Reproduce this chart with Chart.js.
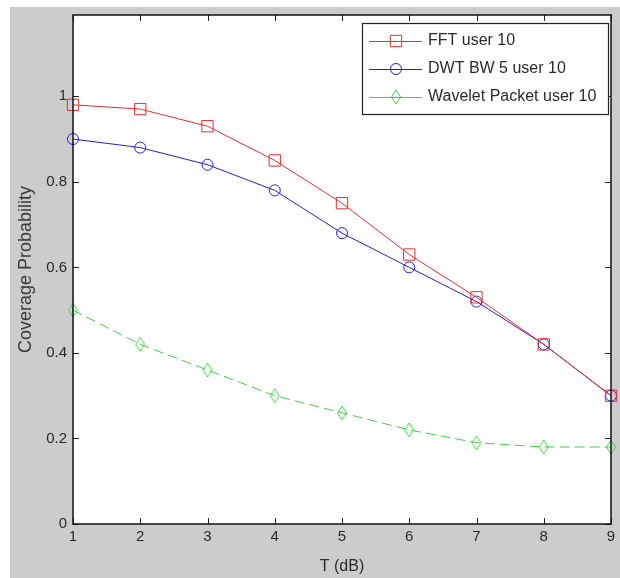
<!DOCTYPE html>
<html><head><meta charset="utf-8">
<script src="https://cdn.jsdelivr.net/npm/chart.js@4.4.1/dist/chart.umd.min.js"></script>
<style>
html,body{margin:0;padding:0;background:#ffffff;overflow:hidden}
#wrap{position:absolute;left:0;top:0;width:620px;height:578px}
</style>
</head><body>
<div id="wrap"><canvas id="c" width="620" height="578"></canvas></div>
<script>
// ---- data ----
const xValues = [1, 2, 3, 4, 5, 6, 7, 8, 9];
const fftValues = [0.98, 0.97, 0.93, 0.85, 0.75, 0.63, 0.53, 0.42, 0.30];
const dwtValues = [0.90, 0.88, 0.84, 0.78, 0.68, 0.60, 0.52, 0.42, 0.30];
const wpValues  = [0.50, 0.42, 0.36, 0.30, 0.26, 0.22, 0.19, 0.18, 0.18];
const seriesNames = ['FFT user 10', 'DWT BW 5 user 10', 'Wavelet Packet user 10'];
const xTicks = [1, 2, 3, 4, 5, 6, 7, 8, 9];
const yTicks = [0, 0.2, 0.4, 0.6, 0.8, 1];
const xTitle = 'T (dB)';
const yTitle = 'Coverage Probability';

const FONT = '"Liberation Sans", Arial, sans-serif';
const RED = '#e03030', BLUE = '#2222cc', GREEN = '#3fd23f';
const TXT = '#2a2a2a';

function diamondImg(color) {
  const cv = document.createElement('canvas');
  cv.width = 12; cv.height = 16;
  const g = cv.getContext('2d');
  g.strokeStyle = color; g.lineWidth = 1;
  g.beginPath();
  g.moveTo(6, 1); g.lineTo(10.5, 8); g.lineTo(6, 15); g.lineTo(1.5, 8); g.closePath();
  g.stroke();
  return cv;
}
const diamond = diamondImg(GREEN);

const pts = arr => xValues.map((x, i) => ({x, y: arr[i]}));

const frame = {
  id: 'frame',
  beforeDraw(c) {
    const ctx = c.ctx, a = c.chartArea;
    ctx.save();
    ctx.fillStyle = '#ffffff'; ctx.fillRect(0, 0, c.width, c.height);
    ctx.fillStyle = '#cccccc'; ctx.fillRect(10, 7, c.width - 10, c.height - 7);
    ctx.fillStyle = '#ffffff'; ctx.fillRect(a.left, a.top, a.right - a.left, a.bottom - a.top);
    ctx.restore();
  },
  afterDraw(c) {
    const ctx = c.ctx, a = c.chartArea, xs = c.scales.x, ys = c.scales.y;
    ctx.save();
    ctx.strokeStyle = '#222'; ctx.lineWidth = 1;
    const L = 6;
    ctx.beginPath();
    xTicks.forEach(v => {
      const px = Math.round(xs.getPixelForValue(v)) + 0.5;
      ctx.moveTo(px, a.bottom); ctx.lineTo(px, a.bottom - L);
      ctx.moveTo(px, a.top); ctx.lineTo(px, a.top + L);
    });
    yTicks.forEach(v => {
      const py = Math.round(ys.getPixelForValue(v)) + 0.5;
      ctx.moveTo(a.left, py); ctx.lineTo(a.left + L, py);
      ctx.moveTo(a.right, py); ctx.lineTo(a.right - L, py);
    });
    ctx.stroke();
    ctx.lineWidth = 1.5;
    ctx.strokeStyle = '#111';
    ctx.strokeRect(a.left, a.top, a.right - a.left, a.bottom - a.top);

    // legend
    const bx = 362, by = 23, bw = 246, bh = 91;
    ctx.fillStyle = '#fff';
    ctx.fillRect(bx, by, bw, bh);
    ctx.lineWidth = 1.2; ctx.strokeStyle = '#222';
    ctx.strokeRect(bx + 0.5, by + 0.5, bw, bh);
    const rows = [41, 69, 97];
    const ds = c.data.datasets;
    ctx.font = '16px ' + FONT;
    ctx.textBaseline = 'middle';
    ds.forEach((d, i) => {
      const y = rows[i];
      ctx.strokeStyle = d.borderColor; ctx.lineWidth = 1;
      ctx.beginPath(); ctx.moveTo(369, y + 0.5); ctx.lineTo(422, y + 0.5); ctx.stroke();
      ctx.fillStyle = 'rgba(0,0,0,0)';
      ctx.strokeStyle = d.borderColor;
      Chart.helpers.drawPoint(ctx, {pointStyle: d.pointStyle, rotation: 0, borderWidth: 1, radius: d.pointRadius}, 396, y);
      ctx.fillStyle = TXT;
      ctx.fillText(d.label, 428, y);
    });
    ctx.restore();
  }
};

new Chart(document.getElementById('c'), {
  type: 'line',
  data: {
    datasets: [
      {label: seriesNames[0], data: pts(fftValues), borderColor: RED, backgroundColor: 'transparent',
       borderWidth: 1, pointStyle: 'rect', pointRadius: 8, pointBorderColor: RED, pointBackgroundColor: 'transparent', pointBorderWidth: 1, clip: false},
      {label: seriesNames[1], data: pts(dwtValues), borderColor: BLUE, backgroundColor: 'transparent',
       borderWidth: 1, pointStyle: 'circle', pointRadius: 5.5, pointBorderColor: BLUE, pointBackgroundColor: 'transparent', pointBorderWidth: 1, clip: false},
      {label: seriesNames[2], data: pts(wpValues), borderColor: GREEN, backgroundColor: 'transparent',
       borderWidth: 1, borderDash: [10, 5], pointStyle: diamond, pointRadius: 7, pointBorderColor: GREEN, pointBackgroundColor: 'transparent', pointBorderWidth: 1, clip: false}
    ]
  },
  options: {
    responsive: false, animation: false, devicePixelRatio: 1,
    layout: {padding: {left: 0, right: 6, top: 12, bottom: 0}},
    plugins: {legend: {display: false}, tooltip: {enabled: false}},
    elements: {line: {tension: 0}},
    scales: {
      x: {
        type: 'linear', min: 1, max: 9,
        grid: {display: false, drawTicks: false}, border: {display: false},
        afterBuildTicks: s => { s.ticks = xTicks.map(v => ({value: v})); },
        afterFit: s => { s.height = 54; },
        ticks: {font: {family: FONT, size: 15}, color: TXT, padding: 4, maxRotation: 0, autoSkip: false,
                callback: v => String(v)},
        title: {display: true, text: xTitle, font: {family: FONT, size: 16}, color: TXT, padding: {top: 2, bottom: 2}}
      },
      y: {
        type: 'linear', min: 0, max: 1.19,
        grid: {display: false, drawTicks: false}, border: {display: false},
        afterBuildTicks: s => { s.ticks = yTicks.map(v => ({value: v})); },
        afterFit: s => { s.width = 73; },
        ticks: {font: {family: FONT, size: 15}, color: TXT, padding: 6, autoSkip: false,
                callback: v => String(+v.toFixed(1))},
        title: {display: true, text: yTitle, font: {family: FONT, size: 18}, color: '#3a3a3a', padding: {top: 15, bottom: 15}}
      }
    }
  },
  plugins: [frame]
});
</script>
</body></html>
